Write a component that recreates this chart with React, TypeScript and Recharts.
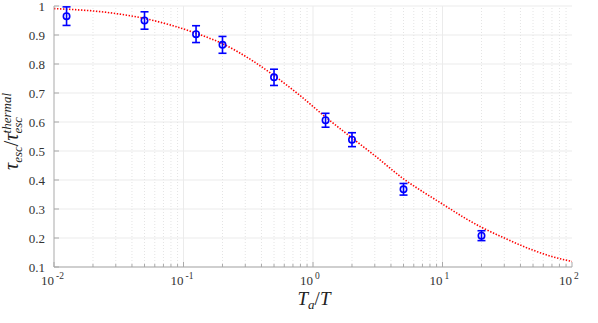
import React from 'react';
import { ComposedChart, Line, Scatter, XAxis, YAxis, CartesianGrid, ReferenceLine, ErrorBar } from 'recharts';

// Measured points (Ta/T, tau ratio, error)
const pointX = [0.0125, 0.05, 0.125, 0.2, 0.5, 1.25, 2, 5, 20];
const pointY = [0.965, 0.950, 0.903, 0.866, 0.754, 0.606, 0.539, 0.368, 0.208];
const pointErr = [0.032, 0.030, 0.029, 0.029, 0.028, 0.024, 0.024, 0.020, 0.017];

// Fitted curve
const curveX = [0.01, 0.015, 0.02, 0.03, 0.05, 0.08, 0.125, 0.2, 0.35, 0.5, 0.8, 1.25, 2, 3, 5, 8, 10, 15, 20, 30, 50, 70, 100];
const curveY = [0.991, 0.987, 0.983, 0.974, 0.957, 0.934, 0.906, 0.870, 0.808, 0.760, 0.690, 0.617, 0.545, 0.484, 0.404, 0.344, 0.317, 0.268, 0.237, 0.200, 0.158, 0.136, 0.119];

// Tick values
const xMajorTicks = [0.01, 0.1, 1, 10, 100];
const xExponents = ['-2', '-1', '0', '1', '2'];
const xMinorMultipliers = [2, 3, 4, 5, 6, 7, 8, 9];
const yTicks = [0.1, 0.2, 0.3, 0.4, 0.5, 0.6, 0.7, 0.8, 0.9, 1];
const yTickLabels = ['0.1', '0.2', '0.3', '0.4', '0.5', '0.6', '0.7', '0.8', '0.9', '1'];

const xMinorTicks: number[] = [];
xMajorTicks.slice(0, -1).forEach((m) => xMinorMultipliers.forEach((k) => xMinorTicks.push(+(m * k).toPrecision(6))));
const xAllTicks = [...xMajorTicks, ...xMinorTicks].sort((a, b) => a - b);

const pointData = pointX.map((x, i) => ({ x, y: pointY[i], err: pointErr[i] }));
const curveData = curveX.map((x, i) => ({ x, y: curveY[i] }));

const AXIS = '#a9a9a9';
const TXT = '#333333';
const FONT = "'Liberation Serif', 'DejaVu Serif', serif";
const serif: React.CSSProperties = { fontFamily: FONT };
const serifItalic: React.CSSProperties = { fontFamily: FONT, fontStyle: 'italic' };

const isMajor = (v: number) => Math.abs(Math.log10(v) - Math.round(Math.log10(v))) < 1e-6;

const BottomTick = (props: any) => {
  const { x, y, payload } = props;
  const v = payload.value;
  const major = isMajor(v);
  const idx = xMajorTicks.findIndex((m) => Math.abs(m - v) < 1e-9);
  return (
    <g>
      <line x1={x} x2={x} y1={y} y2={y - (major ? 5 : 3)} stroke={AXIS} strokeWidth={1} />
      {major && (
        <g>
          <text x={x} y={y + 18} textAnchor="end" fontSize={13} fill={TXT} style={serif}>10</text>
          <text x={x + 2} y={y + 12} textAnchor="start" fontSize={9.5} fill={TXT} style={serif}>{xExponents[idx]}</text>
        </g>
      )}
    </g>
  );
};

const TopTick = (props: any) => {
  const { x, y, payload } = props;
  const major = isMajor(payload.value);
  return <line x1={x} x2={x} y1={y} y2={y + (major ? 5 : 3)} stroke={AXIS} strokeWidth={1} />;
};

const LeftTick = (props: any) => {
  const { x, y, payload } = props;
  const idx = yTicks.findIndex((t) => Math.abs(t - payload.value) < 1e-9);
  return (
    <g>
      <line x1={x} x2={x + 5} y1={y} y2={y} stroke={AXIS} strokeWidth={1} />
      <text x={x - 9} y={y + 4.5} textAnchor="end" fontSize={13} fill={TXT} style={serif}>
        {yTickLabels[idx]}
      </text>
    </g>
  );
};

const RightTick = (props: any) => {
  const { x, y } = props;
  return <line x1={x} x2={x - 5} y1={y} y2={y} stroke={AXIS} strokeWidth={1} />;
};

const CircleMarker = (props: any) => {
  const { cx, cy } = props;
  return <circle cx={cx} cy={cy} r={3.2} fill="none" stroke="#0000ff" strokeWidth={1.6} />;
};

export default function App() {
  return (
    <div style={{ position: 'absolute', left: 0, top: 0, width: 598, height: 323, background: '#fff' }}>
      <ComposedChart width={598} height={323} margin={{ top: 6, right: 26, bottom: 16, left: 14 }}>
        <CartesianGrid xAxisId="x" yAxisId="y" vertical={false} stroke="#ebebeb" strokeWidth={1} />
        {xMinorTicks.map((v) => (
          <ReferenceLine key={'mn' + v} xAxisId="x" yAxisId="y" x={v} stroke="#e4e4e4" strokeWidth={1} strokeDasharray="1 2" />
        ))}
        {xMajorTicks.slice(1, -1).map((v) => (
          <ReferenceLine key={'mj' + v} xAxisId="x" yAxisId="y" x={v} stroke="#ebebeb" strokeWidth={1} />
        ))}
        <XAxis
          xAxisId="x"
          dataKey="x"
          type="number"
          scale="log"
          domain={[0.01, 100]}
          allowDataOverflow
          ticks={xAllTicks}
          interval={0}
          height={40}
          tickSize={0}
          tickMargin={0}
          tickLine={false}
          axisLine={{ stroke: AXIS }}
          tick={<BottomTick />}
        />
        <XAxis
          xAxisId="xt"
          orientation="top"
          type="number"
          scale="log"
          domain={[0.01, 100]}
          allowDataOverflow
          ticks={xAllTicks}
          interval={0}
          height={0}
          tickSize={0}
          tickMargin={0}
          tickLine={false}
          axisLine={{ stroke: AXIS }}
          tick={<TopTick />}
        />
        <YAxis
          yAxisId="y"
          dataKey="y"
          type="number"
          domain={[0.1, 1]}
          allowDataOverflow
          ticks={yTicks}
          interval={0}
          width={40}
          tickSize={0}
          tickMargin={0}
          tickLine={false}
          axisLine={{ stroke: AXIS }}
          tick={<LeftTick />}
        />
        <YAxis
          yAxisId="yr"
          orientation="right"
          type="number"
          domain={[0.1, 1]}
          allowDataOverflow
          ticks={yTicks}
          interval={0}
          width={0}
          tickSize={0}
          tickMargin={0}
          tickLine={false}
          axisLine={{ stroke: AXIS }}
          tick={<RightTick />}
        />
        <Line
          xAxisId="x"
          yAxisId="y"
          data={curveData}
          dataKey="y"
          type="monotone"
          stroke="#ff0000"
          strokeWidth={1.6}
          strokeDasharray="1.4 1.6"
          dot={false}
          activeDot={false}
          isAnimationActive={false}
        />
        <Scatter
          xAxisId="x"
          yAxisId="y"
          data={pointData}
          dataKey="y"
          shape={<CircleMarker />}
          isAnimationActive={false}
        >
          <ErrorBar dataKey="err" direction="y" width={4} stroke="#0000ff" strokeWidth={1.6} isAnimationActive={false} />
        </Scatter>
      </ComposedChart>
      <svg width={598} height={323} style={{ position: 'absolute', left: 0, top: 0, pointerEvents: 'none' }}>
        <g transform="translate(18,128) rotate(-90)">
          <text x={-42} y={0} fontSize={20} fill="#222" style={serifItalic}>
            τ<tspan fontSize={13} dy={4}>esc</tspan>
            <tspan fontSize={20} dy={-4} style={{ fontStyle: 'normal' }}>/</tspan>
            τ<tspan fontSize={13} dy={4}>esc</tspan>
            <tspan fontSize={13} dx={-16.5} dy={-11}>thermal</tspan>
          </text>
        </g>
        <text x={314} y={305} textAnchor="middle" fontSize={19} fill="#222" style={serifItalic}>
          T<tspan fontSize={13} dy={4}>a</tspan>
          <tspan dy={-4} style={{ fontStyle: 'normal' }}>/</tspan>T
        </text>
      </svg>
    </div>
  );
}
